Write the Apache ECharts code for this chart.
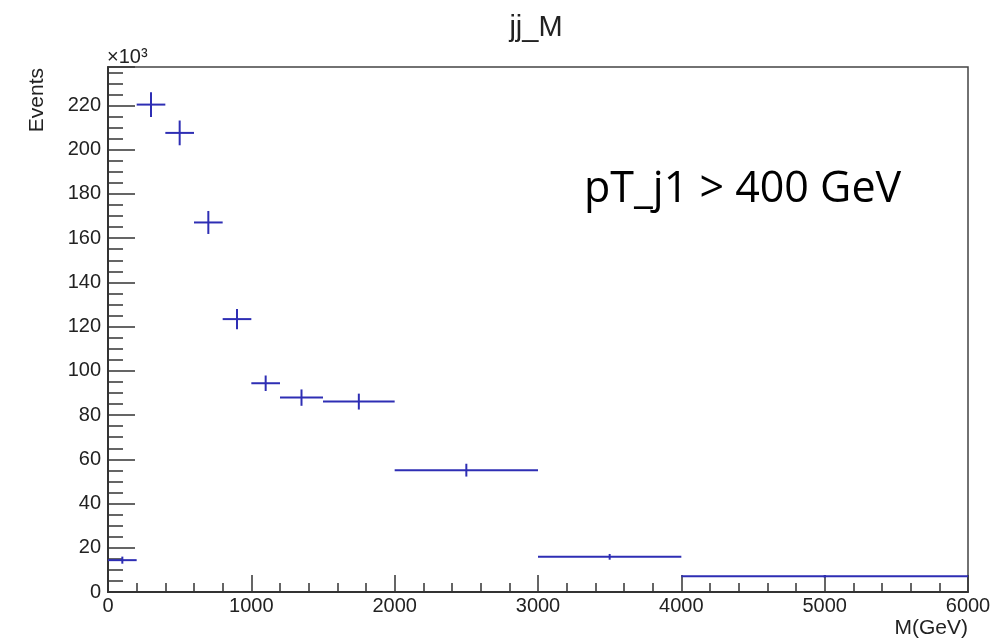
<!DOCTYPE html>
<html>
<head>
<meta charset="utf-8">
<script src="https://cdn.jsdelivr.net/npm/echarts@6/dist/echarts.min.js"></script>
<style>
html,body{margin:0;padding:0;background:#fff;}
#chart{width:1006px;height:643px;}
</style>
</head>
<body>
<div id="chart"></div>
<script>
// Bin edges of M(GeV)
const binEdges = [0, 200, 400, 600, 800, 1000, 1200, 1500, 2000, 3000, 4000, 6000];
// Events per bin (in units of 10^3)
const eventsK = [14.4, 220.4, 207.6, 167.1, 123.4, 94.4, 87.9, 86.1, 55.1, 15.9, 7.1];
// Statistical error per bin (in units of 10^3)
const errorsK = [1.6, 5.6, 5.6, 5.2, 4.6, 3.5, 3.7, 3.6, 2.9, 1.3, 0.6];

const chartTitle = 'jj_M';
const xAxisTitle = 'M(GeV)';
const yAxisTitle = 'Events';
const yExponent = '\u00d710\u00b3';
const annotation = 'pT_j1 > 400 GeV';

const xMin = 0, xMax = 6000, xMajor = 1000;
const yMin = 0, yMax = 237.4, yMajor = 20, yMinor = 5;

const histData = eventsK.map((v, i) => [binEdges[i], binEdges[i + 1], v, errorsK[i]]);

const lineColor = '#2e2eb4';
const axisColor = '#333';

const chart = echarts.init(document.getElementById('chart'), null, {renderer: 'canvas'});

const option = {
  animation: false,
  backgroundColor: '#ffffff',
  title: {
    text: chartTitle,
    left: 536,
    top: 13,
    padding: 0,
    textAlign: 'center',
    textStyle: {fontFamily: 'Liberation Sans', fontSize: 29, fontWeight: 'normal', color: '#222'}
  },
  grid: {
    left: 108, right: 38, top: 67, bottom: 51,
    show: true, borderColor: '#444', borderWidth: 1.5, backgroundColor: 'transparent',
    containLabel: false, outerBoundsMode: 'none'
  },
  xAxis: {
    type: 'value', min: xMin, max: xMax, interval: xMajor,
    axisLine: {show: true, onZero: false, lineStyle: {color: axisColor, width: 2}},
    axisTick: {show: true, inside: true, length: 17, lineStyle: {color: axisColor, width: 1.5}},
    minorTick: {show: true, splitNumber: 5, length: 9, lineStyle: {color: axisColor, width: 1.5}},
    axisLabel: {margin: 4, fontFamily: 'Liberation Sans', fontSize: 20, color: '#222',
      formatter: v => String(v)},
    splitLine: {show: false}, minorSplitLine: {show: false}
  },
  yAxis: [{
    type: 'value', min: yMin, max: yMax, interval: yMajor,
    axisLine: {show: true, onZero: false, lineStyle: {color: axisColor, width: 2}},
    axisTick: {show: true, inside: true, length: 27, lineStyle: {color: axisColor, width: 1.5}},
    axisLabel: {margin: 7, fontFamily: 'Liberation Sans', fontSize: 20, color: '#222',
      formatter: v => (Math.abs(v % yMajor) < 1e-9 ? String(v) : '')},
    splitLine: {show: false}
  }, {
    type: 'value', min: yMin, max: yMax, interval: yMinor, position: 'left',
    axisLine: {show: false},
    axisTick: {show: true, inside: true, length: 15, lineStyle: {color: axisColor, width: 1.5}},
    axisLabel: {show: false},
    splitLine: {show: false}
  }],
  series: [{
    type: 'custom',
    xAxisIndex: 0,
    yAxisIndex: 0,
    data: histData,
    encode: {x: [0, 1], y: 2},
    clip: true,
    renderItem: function (params, api) {
      const lo = api.value(0), hi = api.value(1), v = api.value(2), e = api.value(3);
      const mid = (lo + hi) / 2;
      const pL = api.coord([lo, v]);
      const pR = api.coord([hi, v]);
      const pT = api.coord([mid, v + e]);
      const pB = api.coord([mid, v - e]);
      const st = {stroke: lineColor, lineWidth: 2, fill: null};
      return {
        type: 'group',
        children: [
          {type: 'line', shape: {x1: pL[0], y1: pL[1], x2: pR[0], y2: pR[1]}, style: st},
          {type: 'line', shape: {x1: pT[0], y1: pT[1], x2: pB[0], y2: pB[1]}, style: st}
        ]
      };
    }
  }],
  graphic: [
    {type: 'text', x: 107, y: 57,
      style: {text: yExponent, fontFamily: 'Liberation Sans', fontSize: 20, fill: '#222', align: 'left', verticalAlign: 'middle'}},
    {type: 'text', x: 37, y: 68, rotation: Math.PI / 2,
      style: {text: yAxisTitle, fontFamily: 'Liberation Sans', fontSize: 21, fill: '#222', align: 'right', verticalAlign: 'middle'}},
    {type: 'text', x: 968, y: 628,
      style: {text: xAxisTitle, fontFamily: 'Liberation Sans', fontSize: 21, fill: '#222', align: 'right', verticalAlign: 'middle'}},
    {type: 'text', x: 584, y: 190,
      style: {text: annotation, fontFamily: 'Open Sans', fontSize: 43, fill: '#000', align: 'left', verticalAlign: 'middle'}}
  ]
};

chart.setOption(option);
</script>
</body>
</html>
